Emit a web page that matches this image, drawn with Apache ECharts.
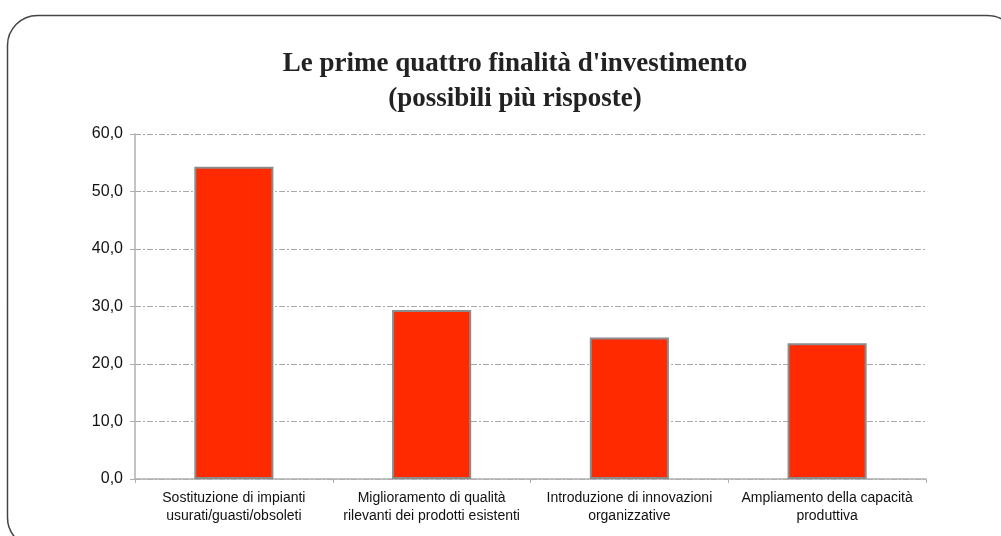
<!DOCTYPE html>
<html>
<head>
<meta charset="utf-8">
<script src="https://cdn.jsdelivr.net/npm/echarts@6/dist/echarts.min.js"></script>
<style>
  html, body { margin: 0; padding: 0; background: #fff; }
  #chart { width: 1001px; height: 536px; }
</style>
</head>
<body>
<div id="chart"></div>
<script>
const categories = [
  'Sostituzione di impianti\nusurati/guasti/obsoleti',
  'Miglioramento di qualità\nrilevanti dei prodotti esistenti',
  'Introduzione di innovazioni\norganizzative',
  'Ampliamento della capacità\nproduttiva'
]
const values = [54.3, 29.4, 24.6, 23.6]
const titleLines = ["Le prime quattro finalità d'investimento", '(possibili più risposte)']

const chart = echarts.init(document.getElementById('chart'))

const option = {
  backgroundColor: '#fff',
  animation: false,
  title: {
    text: titleLines.join('\n'),
    left: 510,
    top: 42,
    textAlign: 'center',
    textStyle: {
      fontFamily: '"Liberation Serif", "Times New Roman", serif',
      fontSize: 27,
      fontWeight: 'bold',
      color: '#222',
      lineHeight: 35
    }
  },
  graphic: [
    {
      type: 'rect',
      shape: { x: 7.5, y: 15.5, width: 1010, height: 532, r: 30 },
      style: { fill: 'none', stroke: '#444', lineWidth: 1.5 },
      silent: true
    }
  ],
  grid: {
    left: 135,
    right: 75,
    top: 134,
    bottom: 57
  },
  xAxis: {
    type: 'category',
    data: categories,
    axisLine: { lineStyle: { color: '#b0b0b0', width: 1.5 } },
    axisTick: { show: true, length: 4, lineStyle: { color: '#b0b0b0' } },
    axisLabel: {
      color: '#111',
      fontFamily: '"Liberation Sans", Arial, sans-serif',
      fontSize: 14,
      lineHeight: 18,
      margin: 10,
      interval: 0
    }
  },
  yAxis: {
    type: 'value',
    min: 0,
    max: 60,
    interval: 10,
    axisLine: { show: true, lineStyle: { color: '#b0b0b0', width: 1.5 } },
    axisTick: { show: true, length: 5, lineStyle: { color: '#b0b0b0' } },
    axisLabel: {
      color: '#111',
      fontFamily: '"Liberation Sans", Arial, sans-serif',
      fontSize: 16,
      margin: 12,
      formatter: (v) => v.toFixed(1).replace('.', ',')
    },
    splitLine: {
      lineStyle: { color: '#aaa', type: [6, 2, 2, 2], width: 1 }
    }
  },
  series: [
    {
      type: 'bar',
      data: values,
      barWidth: '40%',
      itemStyle: {
        color: '#ff2a00',
        borderColor: '#8c8c8c',
        borderWidth: 2
      }
    }
  ]
}

chart.setOption(option)
</script>
</body>
</html>
